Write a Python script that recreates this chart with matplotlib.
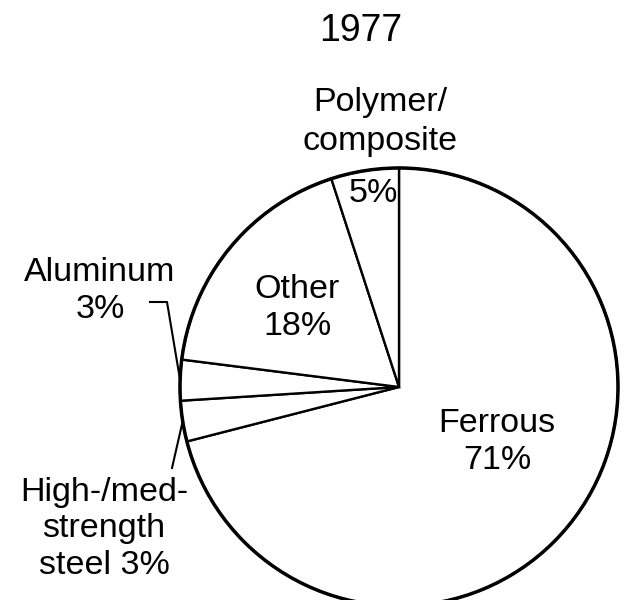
import numpy as np
import matplotlib.pyplot as plt
from matplotlib.patches import Circle

plt.rcParams['font.family'] = ['Liberation Sans', 'DejaVu Sans']

# 1977 materials share (clockwise from 12 o'clock)
materials = ['Ferrous', 'High-/med-strength steel', 'Aluminum', 'Other', 'Polymer/composite']
shares = [71, 3, 3, 18, 5]
title = '1977'

W, H = 624, 600
fig = plt.figure(figsize=(W / 100, H / 100), dpi=100)
ax = fig.add_axes([0, 0, 1, 1])


def py(y):
    # pixel row (from top) -> data y
    return H - y


cx, cy, r = 399, py(387), 219
wedges, _ = ax.pie(shares, startangle=90, counterclock=False, center=(cx, cy), radius=r,
                   colors=['white'] * len(shares),
                   wedgeprops=dict(edgecolor='black', linewidth=1.7))
ax.add_patch(Circle((cx, cy), r, fill=False, edgecolor='black', linewidth=2.5, zorder=5))
ax.set_xlim(0, W)
ax.set_ylim(0, H)
ax.axis('off')

fs = 24.5
ax.text(361, py(31), title, ha='center', va='center', fontsize=27)
ax.text(380, py(122), 'Polymer/\ncomposite', ha='center', va='center', fontsize=fs, linespacing=1.32)
ax.text(373, py(194), '5%', ha='center', va='center', fontsize=fs)
ax.text(297, py(308), 'Other\n18%', ha='center', va='center', fontsize=fs, linespacing=1.25)
ax.text(497, py(442), 'Ferrous\n71%', ha='center', va='center', fontsize=fs, linespacing=1.25)
ax.text(100, py(291), 'Aluminum\n3%', ha='center', va='center', fontsize=fs, linespacing=1.25)
ax.text(104, py(529), 'High-/med-\nstrength\nsteel 3%', ha='center', va='center', fontsize=fs,
        linespacing=1.25)


def edge_point(w):
    mid = np.deg2rad((w.theta1 + w.theta2) / 2)
    return cx + r * np.cos(mid), cy + r * np.sin(mid)


# leader lines
ax_, ay_ = edge_point(wedges[2])
ax.plot([150, 167, ax_], [py(302), py(302), ay_], color='black', lw=1.5)
sx, sy = edge_point(wedges[1])
ax.plot([sx, 172], [sy, py(468)], color='black', lw=1.5)

fig.savefig('out.png', dpi=100)
